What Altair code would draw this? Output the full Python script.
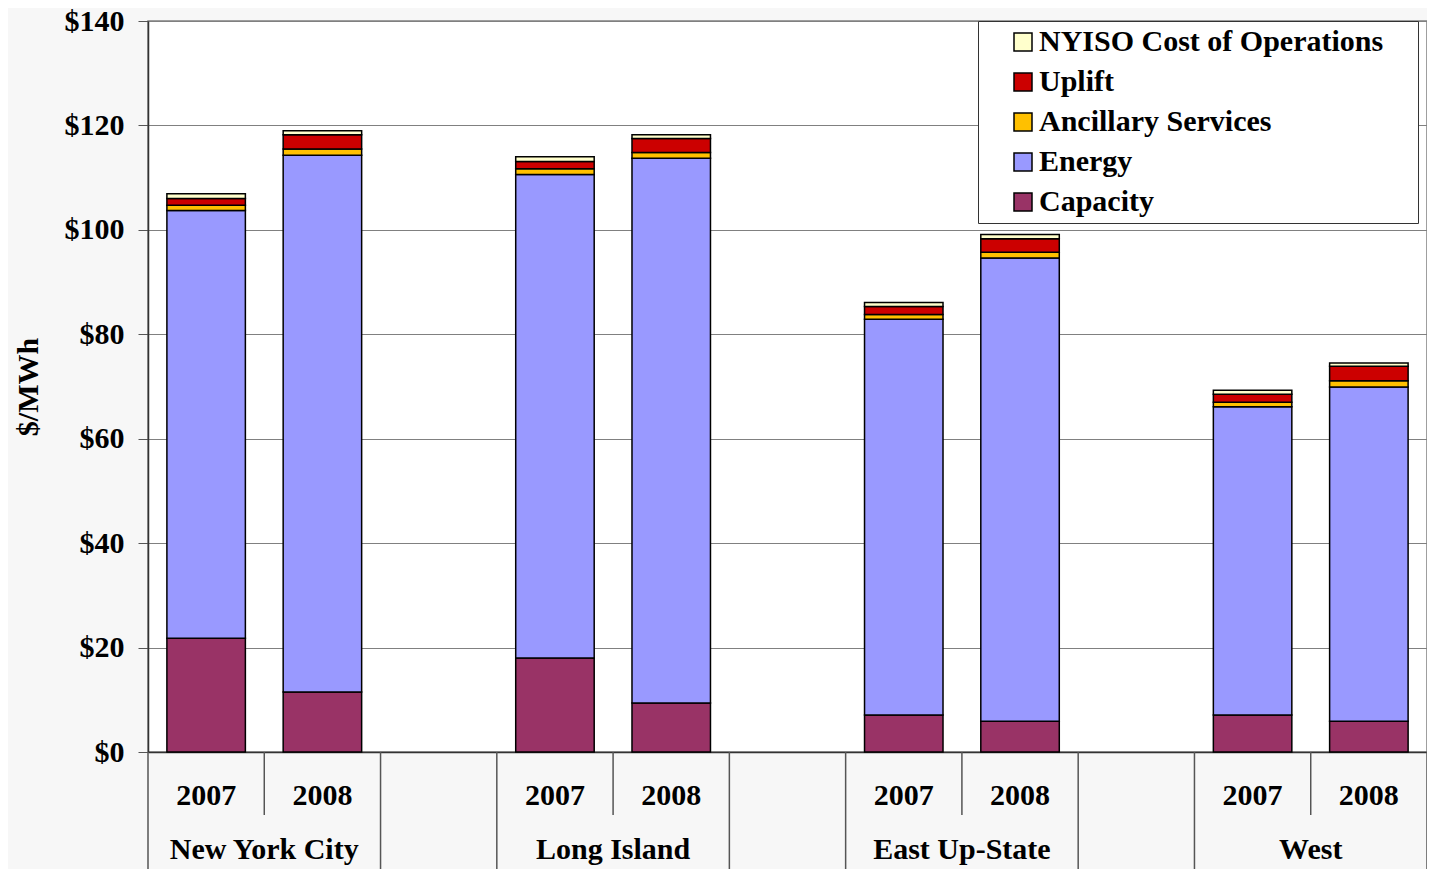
import altair as alt
import pandas as pd

regions = ["New York City", "Long Island", "East Up-State", "West"]
years = ["2007", "2008"]
components = ["Capacity", "Energy", "Ancillary Services", "Uplift", "NYISO Cost of Operations"]

# values per bar, order: NYC07, NYC08, LI07, LI08, EUS07, EUS08, W07, W08
capacity = [21.8, 11.5, 18.0, 9.4, 7.1, 5.9, 7.1, 5.9]
energy = [81.9, 102.8, 92.6, 104.3, 75.8, 88.7, 59.0, 64.0]
ancillary = [1.0, 1.2, 1.1, 1.1, 0.9, 1.1, 0.9, 1.2]
uplift = [1.3, 2.7, 1.4, 2.7, 1.5, 2.6, 1.5, 2.8]
operations = [0.9, 0.8, 0.9, 0.7, 0.8, 0.8, 0.8, 0.6]

legend_order = ["NYISO Cost of Operations", "Uplift", "Ancillary Services", "Energy", "Capacity"]
legend_colors = ["#FFFFCC", "#CC0000", "#FFC000", "#9999FF", "#993366"]

FONT = "Liberation Serif"
W, H = 1279, 731

# slots incl. empty gaps between regions
slots = []
for i, r in enumerate(regions):
    for y in years:
        slots.append(f"{r} {y}")
    if i < len(regions) - 1:
        slots.append(f"gap{i}")

series = [capacity, energy, ancillary, uplift, operations]
rows = []
k = 0
for r in regions:
    for y in years:
        for ci, comp in enumerate(components):
            rows.append({"slot": f"{r} {y}", "component": comp, "value": series[ci][k], "order": ci})
        k += 1
bars_df = pd.DataFrame(rows)

xscale = alt.Scale(domain=slots, paddingInner=0, paddingOuter=0)

bars = alt.Chart(bars_df).mark_bar(
    stroke="black", strokeWidth=1.5, width=alt.RelativeBandSize(0.675)
).encode(
    x=alt.X("slot:N", scale=xscale, sort=slots,
            axis=alt.Axis(labels=False, ticks=False, title=None, grid=False,
                          domainColor="#333333", domainWidth=1.5)),
    y=alt.Y("value:Q", stack="zero",
            scale=alt.Scale(domain=[0, 140], nice=False),
            axis=alt.Axis(values=list(range(0, 141, 20)), labelExpr="'$' + datum.value",
                          title="$/MWh", titleFont=FONT, titleFontSize=30, titleFontWeight="bold",
                          titleColor="black", titlePadding=21,
                          labelFont=FONT, labelFontSize=30, labelFontWeight="bold", labelColor="black",
                          labelPadding=14, tickSize=10, tickColor="#555555",
                          domainColor="#333333", domainWidth=1.5,
                          gridColor="#808080", gridWidth=1)),
    color=alt.Color("component:N",
                    scale=alt.Scale(domain=legend_order, range=legend_colors),
                    legend=alt.Legend(title=".", titleOrient="right", titleColor="transparent",
                                      titleFontSize=10, titlePadding=26,
                                      orient="none", legendX=830, legendY=0,
                                      fillColor="white", strokeColor="#333333", padding=6,
                                      symbolOffset=24, symbolType="square", symbolSize=324,
                                      symbolStrokeColor="black", symbolStrokeWidth=1.5,
                                      labelFont=FONT, labelFontSize=30, labelFontWeight="bold",
                                      labelColor="black", labelOffset=1, rowPadding=10,
                                      labelLimit=500)),
    order=alt.Order("order:Q", sort="ascending"),
)

group_starts = pd.DataFrame({"slot": [s for s in slots if s.endswith("2007") or s.startswith("gap")]})
group_end = pd.DataFrame({"slot": [slots[-1]]})
year_bounds = pd.DataFrame({"slot": [s for s in slots if s.endswith("2008")]})

rule_style = dict(color="#555555", strokeWidth=1.5)
sep_full = alt.Chart(group_starts).mark_rule(**rule_style).encode(
    x=alt.X("slot:N", bandPosition=0, scale=xscale), y=alt.value(H), y2=alt.value(H + 130))
sep_end = alt.Chart(group_end).mark_rule(**rule_style).encode(
    x=alt.X("slot:N", bandPosition=1, scale=xscale), y=alt.value(H), y2=alt.value(H + 130))
sep_year = alt.Chart(year_bounds).mark_rule(**rule_style).encode(
    x=alt.X("slot:N", bandPosition=0, scale=xscale), y=alt.value(H), y2=alt.value(H + 63))

year_df = pd.DataFrame({"slot": [f"{r} {y}" for r in regions for y in years],
                        "label": [y for r in regions for y in years]})
region_df = pd.DataFrame({"slot": [f"{r} 2008" for r in regions], "label": regions})

text_style = dict(font=FONT, fontSize=30, fontWeight="bold", color="black", baseline="middle", align="center")
year_text = alt.Chart(year_df).mark_text(**text_style).encode(
    x=alt.X("slot:N", scale=xscale), y=alt.value(H + 44), text="label:N")
region_text = alt.Chart(region_df).mark_text(**text_style).encode(
    x=alt.X("slot:N", bandPosition=0, scale=xscale), y=alt.value(H + 98), text="label:N")

chart = alt.layer(bars, sep_full, sep_end, sep_year, year_text, region_text).properties(
    width=W, height=H,
    autosize=alt.AutoSizeParams(type="none"),
    padding={"left": 140, "top": 13, "right": 0, "bottom": 117},
    background="#f7f7f7",
).configure_view(fill="white", stroke="#808080", strokeWidth=1.5)

chart.save("out.html", embed_options={"renderer": "svg", "actions": False})
